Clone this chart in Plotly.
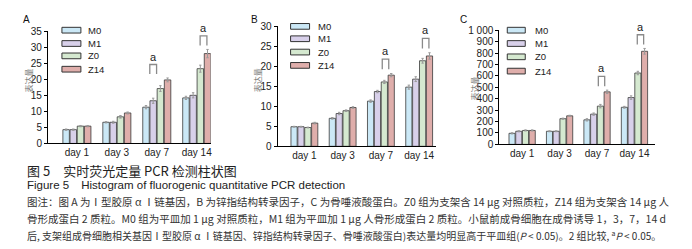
import plotly.graph_objects as go

W, H = 692, 249

# ---------------- data ----------------
days = ["day 1", "day 3", "day 7", "day 14"]
groups = ["M0", "M1", "Z0", "Z14"]

a_M0 = [4.3, 6.6, 11.3, 14.2]
a_M1 = [4.3, 6.6, 13.3, 15.0]
a_Z0 = [5.4, 8.3, 17.1, 23.3]
a_Z14 = [5.4, 9.5, 19.8, 28.0]
a_err_M0 = [0.2, 0.2, 0.5, 0.5]
a_err_M1 = [0.2, 0.3, 0.8, 0.8]
a_err_Z0 = [0.2, 0.4, 0.9, 1.1]
a_err_Z14 = [0.2, 0.3, 0.6, 1.3]

b_M0 = [4.9, 7.0, 11.3, 14.8]
b_M1 = [4.9, 8.2, 13.7, 16.8]
b_Z0 = [4.7, 8.9, 16.1, 21.4]
b_Z14 = [5.8, 9.7, 17.8, 22.6]
b_err_M0 = [0.1, 0.2, 0.3, 0.5]
b_err_M1 = [0.1, 0.3, 0.3, 0.6]
b_err_Z0 = [0.1, 0.2, 0.4, 0.6]
b_err_Z14 = [0.2, 0.2, 0.4, 0.8]

c_M0 = [97, 115, 215, 325]
c_M1 = [115, 115, 265, 410]
c_Z0 = [122, 225, 335, 625]
c_Z14 = [122, 250, 460, 815]
c_err_M0 = [5, 4, 10, 8]
c_err_M1 = [5, 4, 10, 15]
c_err_Z0 = [5, 5, 15, 15]
c_err_Z14 = [5, 5, 15, 25]

a_ticks = [0, 5, 10, 15, 20, 25, 30, 35]
b_ticks = [0, 5, 10, 15, 20, 25, 30]
c_ticks = [0, 100, 200, 300, 400, 500, 600, 700, 800, 900, 1000]
c_ticklabels = ["0", "100", "200", "300", "400", "500", "600", "700", "800", "900", "1 000"]

sig_days = [2, 3]          # day 7 and day 14 carry an "a" bracket
sig_label = "a"
ytitle = "表达量"

colors = ["#cbe8f6", "#d8d0ea", "#d5e9d0", "#dfaeab"]

title_cn = "图 5　实时荧光定量 PCR 检测柱状图"
title_en = "Figure 5　Histogram of fluorogenic quantitative PCR detection"
caption_lines = [
    "图注：图 A 为Ⅰ型胶原 α Ⅰ链基因，B 为锌指结构转录因子，C 为骨唾液酸蛋白。Z0 组为支架含 14 μg 对照质粒，Z14 组为支架含 14 μg 人",
    "骨形成蛋白 2 质粒。M0 组为平皿加 1 μg 对照质粒，M1 组为平皿加 1 μg 人骨形成蛋白 2 质粒。小鼠前成骨细胞在成骨诱导 1，3，7，14 d",
    "后, 支架组成骨细胞相关基因Ⅰ型胶原 α Ⅰ链基因、锌指结构转录因子、骨唾液酸蛋白)表达量均明显高于平皿组(<i>P</i> < 0.05)。2 组比较, <sup>a</sup><i>P</i> < 0.05。",
]
caption_sizes = [10.5, 10.5, 10]

panels = [
    dict(letter="A", vals=[a_M0, a_M1, a_Z0, a_Z14],
         errs=[a_err_M0, a_err_M1, a_err_Z0, a_err_Z14],
         ticks=a_ticks, ticktext=[str(t) for t in a_ticks]),
    dict(letter="B", vals=[b_M0, b_M1, b_Z0, b_Z14],
         errs=[b_err_M0, b_err_M1, b_err_Z0, b_err_Z14],
         ticks=b_ticks, ticktext=[str(t) for t in b_ticks]),
    dict(letter="C", vals=[c_M0, c_M1, c_Z0, c_Z14],
         errs=[c_err_M0, c_err_M1, c_err_Z0, c_err_Z14],
         ticks=c_ticks, ticktext=c_ticklabels),
]

# ---------------- layout geometry (pixels) ----------------
geom = [
    dict(left=40, right=203, top=18, bottom=136, xr=(-0.725, 3.35),
         letter_xy=(19, 6), ytitle_xy=(21, 70),
         leg_box=(54, 73), leg_text=78, leg_rows=[17, 31, 44, 58],
         brk_off=[-0.09, 0.17]),
    dict(left=270, right=429, top=13, bottom=139, xr=(-0.70, 3.45),
         letter_xy=(247, 6), ytitle_xy=(250, 70),
         leg_box=(283, 302), leg_text=308, leg_rows=[13, 26, 40, 54],
         brk_off=[0.12, 0.17]),
    dict(left=492, right=648, top=17, bottom=137, xr=(-0.61, 3.55),
         letter_xy=(456, 6), ytitle_xy=(467, 78),
         leg_box=(500, 518), leg_text=526, leg_rows=[17, 31, 45, 60],
         brk_off=[0.12, 0.16]),
]


def px(x):
    return x / W


def py(y):
    return 1 - y / H


FONT = "Liberation Sans, Arial, sans-serif"
CJK = "Noto Sans CJK SC, sans-serif"

fig = go.Figure()
shapes = []
annotations = []
layout_axes = {}

for i, (p, g) in enumerate(zip(panels, geom)):
    sfx = "" if i == 0 else str(i + 1)
    xa, ya = "x" + sfx, "y" + sfx
    ymax = p["ticks"][-1]
    d0, d1 = py(g["bottom"]), py(g["top"])

    def to_paper(v):
        return d0 + (v / ymax) * (d1 - d0)

    for k, name in enumerate(groups):
        fig.add_trace(go.Bar(
            x=list(range(len(days))), y=p["vals"][k], name=name,
            xaxis=xa, yaxis=ya, showlegend=False,
            marker=dict(color=colors[k], line=dict(color="#3a3a3a", width=0.8)),
            error_y=dict(type="data", array=p["errs"][k], visible=True,
                         color="#9a9a9a", thickness=1, width=1.2),
        ))
    layout_axes["xaxis" + sfx] = dict(
        domain=[px(g["left"]), px(g["right"])], range=list(g["xr"]),
        anchor=ya, tickmode="array", tickvals=list(range(len(days))),
        ticktext=days, showline=True, linecolor="#000", linewidth=1,
        ticks="", showgrid=False, zeroline=False,
        tickfont=dict(family=FONT, size=10, color="#222"), fixedrange=True)
    layout_axes["yaxis" + sfx] = dict(
        domain=[d0, d1], range=[0, ymax],
        anchor=xa, tickmode="array", tickvals=p["ticks"], ticktext=p["ticktext"],
        showline=True, linecolor="#000", linewidth=1, ticks="outside",
        ticklen=3, tickwidth=1, tickcolor="#000", showgrid=False, zeroline=False,
        tickfont=dict(family=FONT, size=10, color="#222"), fixedrange=True)

    # panel letter
    annotations.append(dict(text=p["letter"], x=px(g["letter_xy"][0]), y=py(g["letter_xy"][1]),
                            xref="paper", yref="paper", showarrow=False,
                            font=dict(family=FONT, size=10, color="#111"),
                            xanchor="center", yanchor="middle"))
    # y title
    annotations.append(dict(text=ytitle, x=px(g["ytitle_xy"][0]), y=py(g["ytitle_xy"][1]),
                            xref="paper", yref="paper", showarrow=False, textangle=-90,
                            font=dict(family=CJK, size=8, color="#777"),
                            xanchor="center", yanchor="middle"))
    # legend
    for k, name in enumerate(groups):
        yc = g["leg_rows"][k]
        shapes.append(dict(type="rect", xref="paper", yref="paper",
                           x0=px(g["leg_box"][0]), x1=px(g["leg_box"][1]),
                           y0=py(yc + 3), y1=py(yc - 3),
                           fillcolor=colors[k], line=dict(color="#333", width=1)))
        annotations.append(dict(text=name, x=px(g["leg_text"]), y=py(yc),
                                xref="paper", yref="paper", showarrow=False,
                                font=dict(family=FONT, size=9.5, color="#222"),
                                xanchor="left", yanchor="middle"))
    # significance brackets
    for j, d in enumerate(sig_days):
        top_bar = max(p["vals"][k][d] + p["errs"][k][d] for k in range(len(groups)))
        y0 = top_bar + 0.035 * ymax
        y1 = y0 + 0.085 * ymax
        xc = d + g["brk_off"][j]
        hw = 0.085
        shapes.append(dict(type="path", xref=xa, yref="paper",
                           path=(f"M {xc - hw},{to_paper(y0)} L {xc - hw},{to_paper(y1)} "
                                 f"L {xc + hw},{to_paper(y1)} L {xc + hw},{to_paper(y0)}"),
                           line=dict(color="#8a8a8a", width=1.3)))
        annotations.append(dict(text=sig_label, x=xc, y=to_paper(y1 + 0.07 * ymax),
                                xref=xa, yref="paper",
                                showarrow=False, font=dict(family=FONT, size=11, color="#222"),
                                xanchor="center", yanchor="middle"))

# figure captions
annotations.append(dict(text=title_cn, x=px(17), y=py(164), xref="paper", yref="paper",
                        showarrow=False, xanchor="left", yanchor="middle",
                        font=dict(family=CJK, size=13, color="#222")))
annotations.append(dict(text=title_en, x=px(17), y=py(180), xref="paper", yref="paper",
                        showarrow=False, xanchor="left", yanchor="middle",
                        font=dict(family=FONT, size=11.5, color="#222")))
for n, line in enumerate(caption_lines):
    annotations.append(dict(text=line, x=px(17), y=py(197 + 18 * n), xref="paper", yref="paper",
                            showarrow=False, xanchor="left", yanchor="middle",
                            font=dict(family=CJK, size=caption_sizes[n], color="#333")))

fig.update_layout(
    width=W, height=H, margin=dict(l=0, r=0, t=0, b=0),
    paper_bgcolor="#fff", plot_bgcolor="#fff",
    barmode="group", bargap=0.28, bargroupgap=0.1,
    showlegend=False, shapes=shapes, annotations=annotations,
    **layout_axes,
)

fig.write_html("out.html", config=dict(displayModeBar=False))
